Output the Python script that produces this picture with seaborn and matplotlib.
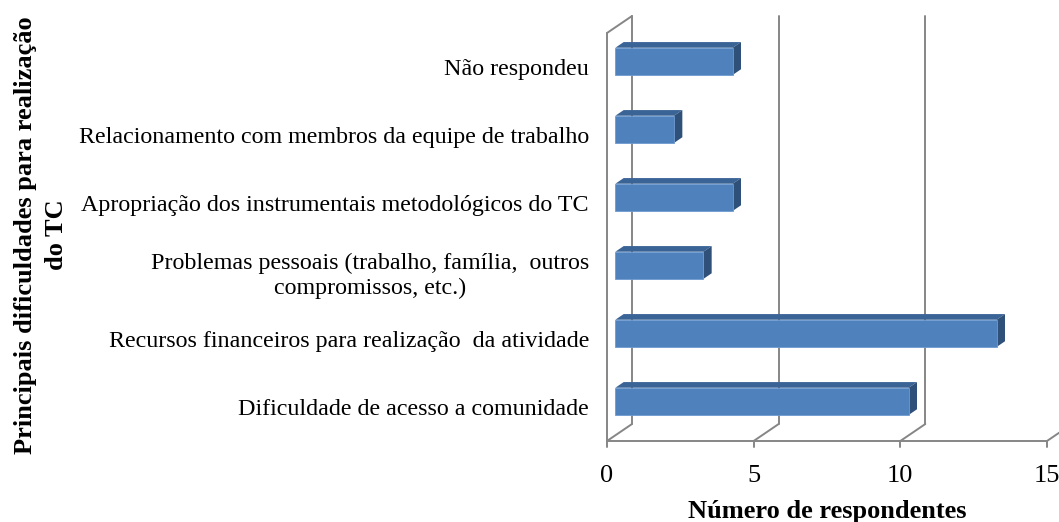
import numpy as np
import pandas as pd
import matplotlib
matplotlib.use("Agg")
import matplotlib.pyplot as plt
import seaborn as sns
from matplotlib.patches import Polygon
from matplotlib.lines import Line2D

categories = [
    "Não respondeu",
    "Relacionamento com membros da equipe de trabalho",
    "Apropriação dos instrumentais metodológicos do TC",
    "Problemas pessoais (trabalho, família,  outros\ncompromissos, etc.)",
    "Recursos financeiros para realização  da atividade",
    "Dificuldade de acesso a comunidade",
]
values = [4, 2, 4, 3, 13, 10]
xticks = [0, 5, 10, 15]
xlabel = "Número de respondentes"
ylabel = "Principais dificuldades para realização\ndo TC"

FRONT = "#4F81BD"
TOP = "#3A6496"
SIDE = "#2E5079"
GRID = "#868686"

sns.set_theme(style="white")
plt.rcParams["font.family"] = ["Liberation Serif", "DejaVu Serif"]
plt.rcParams["text.color"] = "black"
plt.rcParams["xtick.color"] = "black"
plt.rcParams["ytick.color"] = "black"
plt.rcParams["axes.labelcolor"] = "black"

W, H = 1059, 522
fig = plt.figure(figsize=(W / 100, H / 100), dpi=100)
# front plane of the 3-D box (pixel layout)
L, R, B, T = 607, 1047, 441, 33
ax = fig.add_axes([L / W, 1 - B / H, (R - L) / W, (B - T) / H])
DX, DY = 25, 17  # depth vector in pixels (right, up)

df = pd.DataFrame({"cat": categories, "val": values})
sns.barplot(data=df, x="val", y="cat", orient="h", width=0.4, color=FRONT,
            saturation=1, ax=ax, zorder=5, linewidth=0)
ax.set_xlim(0, 15)
ax.set_ylim(len(categories) - 0.5, -0.5)
for s in ax.spines.values():
    s.set_visible(False)
ax.set_xticks(xticks)
ax.set_xticklabels([str(t) for t in xticks], fontsize=19)
ax.tick_params(axis="x", length=0, pad=17.5)
ax.tick_params(axis="y", length=0, pad=13, labelsize=17.3)
for lab in ax.get_yticklabels():
    lab.set_multialignment("center")
    lab.set_linespacing(1.25)
ax.set_xlabel(xlabel, fontsize=19, fontweight="bold", labelpad=9)
ax.set_ylabel("")
fig.canvas.draw()

inv = fig.transFigure.inverted()


def disp(x, y):
    return np.array(ax.transData.transform((x, y)))


def fig_pts(pts):
    return inv.transform(np.array(pts))


def add_line(p0, p1, z=1):
    pts = fig_pts([p0, p1])
    ax.add_line(Line2D(pts[:, 0], pts[:, 1], transform=fig.transFigure,
                       color=GRID, lw=1.4, clip_on=False, zorder=z))


d = np.array([DX, DY], dtype=float)
y_lo, y_hi = ax.get_ylim()  # bottom, top in data
# back wall verticals and floor diagonals, ticks
for t in xticks:
    fb = disp(t, y_lo)
    bb = fb + d
    bt = disp(t, y_hi) + d
    add_line(fb, bb)
    add_line(fb, fb - np.array([0, 6]))
    if t < 15:
        add_line(bb, bt)
# floor front edge
add_line(disp(0, y_lo), disp(15, y_lo))
# left wall front edge and top
add_line(disp(0, y_lo), disp(0, y_hi))
add_line(disp(0, y_hi), disp(0, y_hi) + d)

# bars: shift front face to 1/3 depth and extrude to 2/3 depth
f_off = d / 3
b_off = 2 * d / 3
for p in ax.patches:
    x0, y0 = p.get_x(), p.get_y()
    w, h = p.get_width(), p.get_height()
    tl = disp(x0, y0)
    tr = disp(x0 + w, y0)
    br = disp(x0 + w, y0 + h)
    bl = disp(x0, y0 + h)
    if tl[1] < bl[1]:
        tl, bl = bl, tl
        tr, br = br, tr
    front = [tl + f_off, tr + f_off, br + f_off, bl + f_off]
    top = [tl + f_off, tr + f_off, tr + b_off, tl + b_off]
    side = [tr + f_off, br + f_off, br + b_off, tr + b_off]
    ax.add_patch(Polygon(fig_pts(top), closed=True, transform=fig.transFigure,
                         facecolor=TOP, edgecolor="none", clip_on=False, zorder=4))
    ax.add_patch(Polygon(fig_pts(side), closed=True, transform=fig.transFigure,
                         facecolor=SIDE, edgecolor="none", clip_on=False, zorder=4))
    ax.add_patch(Polygon(fig_pts(front), closed=True, transform=fig.transFigure,
                         facecolor=FRONT, edgecolor="#6E9BD0", lw=0.6,
                         clip_on=False, zorder=6))
    p.set_visible(False)

fig.text(41 / W, 1 - 235 / H, ylabel, rotation=90, ha="center", va="center",
         multialignment="center", fontsize=19, fontweight="bold",
         linespacing=1.45)

fig.savefig("out.png", dpi=100)
